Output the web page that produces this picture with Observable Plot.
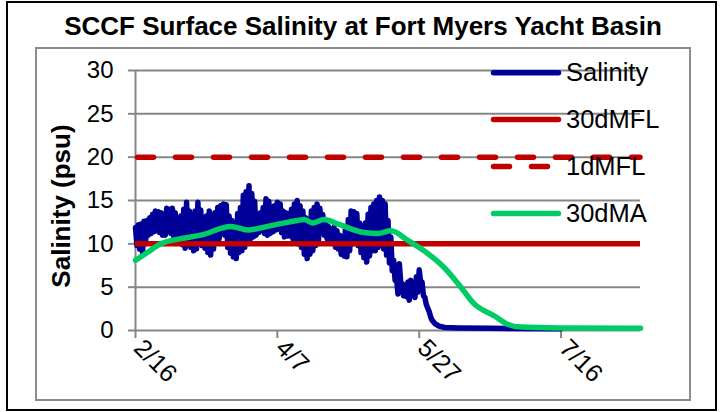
<!DOCTYPE html>
<html><head><meta charset="utf-8">
<script src="https://cdn.jsdelivr.net/npm/d3@7"></script>
<script src="https://cdn.jsdelivr.net/npm/@observablehq/plot@0.6"></script>
<style>body{margin:0;background:#fff} #chart{width:720px;height:412px}</style>
</head><body><div id="chart"></div>
<script>
const titleText = "SCCF Surface Salinity at Fort Myers Yacht Basin";
const yLabel = "Salinity (psu)";
const startDate = "2010-02-16";
const endDate = "2010-08-13";
const xTickDates = ["2010-02-16","2010-04-07","2010-05-27","2010-07-16"];
const xTickLabels = ["2/16","4/7","5/27","7/16"];
const yTicks = [0,5,10,15,20,25,30];
const gridValues = [5,10,15,20,25,30];
// Salinity: daily high / low readings (day 0 = 2/16)
const salHigh = [11.9,12.2,12.3,12.6,12.7,13.0,13.4,13.8,13.7,13.6,
 13.4,14.1,14.0,14.1,13.6,12.7,13.2,14.0,14.8,13.8,
 13.0,13.8,14.8,13.9,12.6,13.2,13.8,13.3,13.6,14.2,
 14.4,14.6,14.5,13.2,12.7,12.4,13.5,14.2,15.6,16.0,
 16.7,15.8,14.9,12.7,13.6,14.2,15.2,14.9,14.2,14.4,
 14.8,14.6,13.8,13.6,13.5,14.0,14.6,15.0,14.4,13.8,
 13.0,12.7,13.8,14.2,14.6,14.1,13.4,12.7,12.0,11.7,
 11.9,11.5,11.0,10.8,11.8,12.8,13.8,13.7,13.5,12.4,
 11.5,12.4,13.4,14.2,14.6,15.0,15.4,15.0,14.6,12.7,
 10.8,8.1,6.2,7.7,5.4,5.2,5.6,5.8,5.0,6.2,
 7.0,5.6,3.8,2.6,1.6];
const salLow = [9.8,9.4,9.0,10.0,11.0,11.2,11.4,11.5,11.3,11.0,
 11.0,11.4,11.2,10.8,10.4,10.2,9.9,9.5,10.0,9.6,
 9.2,9.4,10.0,9.8,9.5,9.0,8.7,9.4,10.2,10.6,
 11.2,11.0,9.6,8.9,8.5,8.3,9.0,9.2,9.6,10.2,
 10.6,10.8,11.0,11.3,11.5,11.2,11.0,11.2,11.4,11.6,
 11.7,11.3,10.8,10.9,10.9,10.6,10.3,10.0,9.6,8.8,
 8.3,8.8,9.2,9.8,10.4,11.5,11.0,10.6,10.3,10.2,
 9.6,9.4,8.8,8.6,8.5,9.2,10.0,10.2,9.8,9.0,
 8.4,7.9,8.6,9.2,9.2,9.6,9.9,9.4,8.7,7.8,
 6.9,5.8,4.2,5.5,4.0,3.9,3.5,4.4,3.8,4.4,
 5.6,4.0,3.0,2.2,1.2];
const salTailDays = [105.5,107,109,114,125,150];
const salTailVals = [0.8,0.5,0.35,0.3,0.25,0.2];
// 30-day moving average
const maDays = [0,4.2,8.9,15.9,23,33.6,39.5,47.7,57.1,59.5,62.4,66.5,71.2,80.6,85.4,90,96,101.7,108.7,114.7,119.3,126.4,131.3,135.9,150,178];
const maVals = [8.1,9.0,10.0,10.6,11.0,12.0,11.6,12.1,12.7,12.8,12.4,12.8,12.3,11.3,11.2,11.5,10.4,9.2,7.3,5.0,3.1,1.7,0.7,0.4,0.3,0.25];
const mfl30 = 10;
const mfl1 = 20;
const seriesNames = ["Salinity","30dMFL","1dMFL","30dMA"];
const seriesColors = ["#000099","#C00000","#C00000","#00CC66"];
const seriesDash = [null,null,"16,22",null];

const day0 = new Date(startDate);
const toDate = d => new Date(day0.getTime() + d * 864e5);
const salData = [];
salHigh.forEach((h, i) => {
  salData.push({date: toDate(i), v: h});
  salData.push({date: toDate(i + 0.5), v: salLow[i]});
});
salTailDays.forEach((d, i) => salData.push({date: toDate(d), v: salTailVals[i]}));
const maData = maDays.map((d, i) => ({date: toDate(d), v: maVals[i]}));
const xStart = new Date(startDate), xEnd = new Date(endDate);
const gray = "#868686";
const font = "'Liberation Sans', Arial, Helvetica, sans-serif";

const svg = Plot.plot({
  width: 720, height: 412,
  marginLeft: 135, marginRight: 80, marginTop: 70, marginBottom: 82,
  style: {fontFamily: font, background: "white", overflow: "visible"},
  x: {type: "utc", domain: [xStart, xEnd]},
  y: {domain: [0, 30]},
  marks: [
    Plot.ruleY(gridValues, {stroke: gray, strokeWidth: 2}),
    Plot.ruleY([0], {stroke: gray, strokeWidth: 2}),
    Plot.ruleX([xStart], {y1: 0, y2: 30, stroke: gray, strokeWidth: 2}),
    Plot.axisY(yTicks, {tickSize: 7, tickPadding: 15, stroke: gray, strokeWidth: 2, fill: "black", fontSize: 24, label: null}),
    Plot.axisX(xTickDates.map(d => new Date(d)), {tickSize: 8, stroke: gray, strokeWidth: 2, tickFormat: () => "", label: null}),
    Plot.text(xTickDates.map(d => new Date(d)), {x: d => d, text: (d, i) => xTickLabels[i], frameAnchor: "bottom", rotate: 45, textAnchor: "start", dx: -3, dy: 19, fontSize: 25, fill: "black"}),
    Plot.line(salData, {x: "date", y: "v", stroke: seriesColors[0], strokeWidth: 5.5, strokeLinejoin: "round", strokeLinecap: "round"}),
    Plot.ruleY([mfl30], {x1: xStart, x2: xEnd, stroke: seriesColors[1], strokeWidth: 5.5}),
    Plot.ruleY([mfl1], {x1: xStart, x2: xEnd, stroke: seriesColors[2], strokeWidth: 5.5, strokeDasharray: seriesDash[2], strokeDashoffset: -2.5, strokeLinecap: "round"}),
    Plot.line(maData, {x: "date", y: "v", stroke: seriesColors[3], strokeWidth: 5.5, curve: "monotone-x", strokeLinecap: "round"})
  ]
});

const s = d3.select(svg);
s.append("rect").attr("x", 7).attr("y", 2).attr("width", 709).attr("height", 408)
  .attr("fill", "none").attr("stroke", "black").attr("stroke-width", 2);
s.append("rect").attr("x", 36).attr("y", 48).attr("width", 654).attr("height", 352)
  .attr("fill", "none").attr("stroke", "#8c8c8c").attr("stroke-width", 2);
s.append("text").attr("x", 363).attr("y", 35).attr("text-anchor", "middle")
  .attr("font-size", 26).attr("font-weight", "bold").attr("fill", "black").text(titleText);
s.append("text").attr("transform", "translate(61,206) rotate(-90)").attr("text-anchor", "middle")
  .attr("dy", "0.35em").attr("font-size", 26).attr("font-weight", "bold").attr("fill", "black").text(yLabel);
const leg = s.append("g");
seriesNames.forEach((name, i) => {
  const y = 72.7 + i * 46.9;
  leg.append("line").attr("x1", 493.5).attr("x2", 558.5).attr("y1", y).attr("y2", y)
    .attr("stroke", seriesColors[i]).attr("stroke-width", 5.5).attr("stroke-linecap", "round")
    .attr("stroke-dasharray", seriesDash[i]);
  leg.append("text").attr("x", 566).attr("y", y).attr("dy", "0.32em").attr("text-anchor", "start")
    .attr("font-size", 25.5).attr("fill", "black").text(name);
});
document.getElementById("chart").appendChild(svg);
</script>
</body></html>
